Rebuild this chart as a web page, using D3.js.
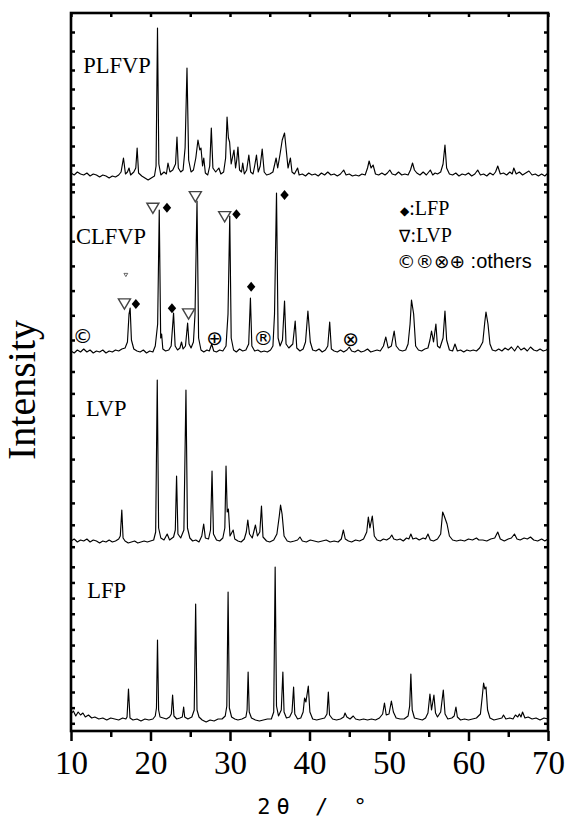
<!DOCTYPE html>
<html>
<head>
<meta charset="utf-8">
<script src="https://cdn.jsdelivr.net/npm/d3@7"></script>
<style>
body { margin: 0; background: #fff; }
</style>
</head>
<body>
<script>
// XRD patterns, 2theta in degrees, intensity relative to each pattern's own baseline
const sampleNames = ['LFP', 'LVP', 'CLFVP', 'PLFVP']
const sampleOffsets = [11, 189, 377, 553]
const labelTheta = [12.05, 11.89, 10.63, 11.55]
const labelIntensity = [133, 315, 487, 658]

const lfpPattern = [[10,6],[10.3,9],[10.6,4],[10.9,8],[11.2,5],[11.5,7],[11.8,3],[12.2,5],[12.6,2],[13,3],[13.5,1],[14,2],[14.5,0],[15,2],[15.5,1],[16,0],[16.5,2],[16.9,1],
  [17.05,3],[17.23,31],[17.42,2],[17.8,0],[18.3,1],[18.8,-1],[19.3,1],[19.8,0],[20.3,1],[20.6,4],[20.75,12],[20.88,80],[21.02,10],[21.2,3],
  [21.6,2],[22,1],[22.4,3],[22.62,6],[22.78,25],[22.95,4],[23.3,1],[23.7,2],[24.0,3],[24.17,13],[24.3,3],[24.7,1],[25.2,3],[25.5,10],[25.68,116],[25.85,10],
  [26.1,3],[26.5,0],[27,-2],[27.5,0],[28,-1],[28.5,1],[29,1],[29.4,4],[29.6,14],[29.76,128],[29.92,12],[30.2,3],[30.6,1],[31,0],[31.5,1],[32,3],[32.15,10],
  [32.28,48],[32.42,8],[32.7,2],[33.2,0],[33.7,-1],[34.2,0],[34.7,1],[35.2,1],[35.5,8],[35.68,153],[35.85,14],[36.1,4],[36.45,10],[36.65,48],[36.8,8],[37.1,2],
  [37.5,3],[37.8,8],[38.0,33],[38.15,6],[38.5,1],[38.9,2],[39.2,8],[39.38,22],[39.55,18],[39.85,34],[40.05,8],[40.4,1],[40.9,0],[41.4,1],[41.9,2],[42.2,6],
  [42.37,28],[42.52,5],[42.9,1],[43.4,0],[43.9,1],[44.3,3],[44.47,7],[44.7,3],[45.1,1],[45.5,4],[45.8,1],[46.3,0],[46.8,1],[47.3,0],[47.8,1],[48.3,0],[48.8,2],
  [49.2,6],[49.43,17],[49.65,5],[50.0,6],[50.3,19],[50.55,8],[50.9,2],[51.4,1],[51.9,1],[52.4,4],[52.6,14],[52.75,46],[52.92,10],[53.2,2],[53.7,1],[54.2,0],
  [54.6,2],[54.9,7],[55.15,26],[55.35,10],[55.65,25],[55.85,7],[56.1,3],[56.5,8],[56.83,30],[57.05,6],[57.4,1],[57.9,2],[58.2,4],[58.42,13],[58.6,3],[59,0],
  [59.5,1],[60,0],[60.5,1],[61,2],[61.5,6],[61.75,25],[61.9,37],[62.05,31],[62.2,33],[62.4,10],[62.7,2],[63.2,0],[63.7,1],[64.2,2],[64.4,5],[64.7,1],[65.2,2],
  [65.6,1],[65.9,5],[66.2,3],[66.4,6],[66.6,3],[66.8,8],[67.1,2],[67.5,3],[68,1],[68.5,2],[69,0],[69.5,2],[70,1]]

const lvpPattern = [[10,1],[10.4,3],[10.8,0],[11.2,2],[11.6,1],[12,3],[12.4,0],[12.8,2],[13.2,1],[13.6,-1],[14,1],[14.4,0],[14.8,2],[15.2,0],[15.6,1],[16,3],
  [16.2,6],[16.39,32],[16.55,4],[16.8,1],[17.2,-1],[17.6,0],[18,1],[18.4,-1],[18.8,0],[19.2,1],[19.6,0],[20,1],[20.4,2],[20.65,10],[20.85,162],[21.02,14],
  [21.3,4],[21.7,2],[22.1,8],[22.4,2],[22.9,5],[23.12,12],[23.28,66],[23.45,8],[23.8,4],[24.2,12],[24.46,152],[24.65,14],[24.95,4],[25.3,1],[25.7,2],[26.1,0],
  [26.45,6],[26.69,18],[26.9,4],[27.3,3],[27.55,12],[27.74,71],[27.92,8],[28.3,2],[28.7,1],[29.1,4],[29.35,14],[29.5,76],[29.65,30],[29.8,33],[30.0,6],[30.4,12],
  [30.6,3],[31,1],[31.4,0],[31.8,3],[32.05,10],[32.24,22],[32.45,8],[32.8,4],[33.2,17],[33.45,6],[33.75,10],[33.96,36],[34.15,5],[34.6,1],[35,0],[35.5,2],
  [35.9,8],[36.2,26],[36.36,37],[36.55,28],[36.8,6],[37.2,1],[37.6,0],[38.1,1],[38.5,2],[38.8,5],[39.1,1],[39.6,0],[40.1,2],[40.6,1],[41.1,0],[41.6,1],[42.1,2],
  [42.6,0],[43.1,1],[43.6,0],[44.0,3],[44.26,12],[44.5,3],[44.9,1],[45.3,0],[45.8,2],[46.3,1],[46.8,3],[47.2,10],[47.4,25],[47.6,14],[47.9,26],[48.15,6],
  [48.5,2],[48.9,1],[49.3,3],[49.7,2],[50.1,4],[50.35,7],[50.6,3],[51,2],[51.4,3],[51.8,1],[52.2,4],[52.5,3],[52.75,8],[53.0,3],[53.4,4],[53.8,2],[54.3,4],
  [54.6,3],[54.9,8],[55.2,2],[55.6,1],[56.1,3],[56.5,8],[56.75,30],[56.95,26],[57.3,18],[57.6,6],[58,2],[58.5,1],[59,2],[59.5,1],[60,3],[60.5,2],[61,4],
  [61.3,2],[61.8,2],[62.3,1],[62.8,3],[63.3,4],[63.68,10],[64,3],[64.5,1],[65,3],[65.4,4],[65.78,8],[66.1,3],[66.5,2],[67,4],[67.4,3],[67.8,5],[68.2,2],
  [68.7,1],[69.2,3],[69.6,1],[70,3]]

const clfvpPattern = [[10,3],[10.4,1],[10.8,4],[11.2,2],[11.6,5],[12,2],[12.4,4],[12.8,1],[13.2,3],[13.6,2],[14,4],[14.4,1],[14.8,3],[15.2,2],[15.6,4],[16,3],
  [16.4,5],[16.8,6],[17.1,12],[17.3,40],[17.44,46],[17.6,14],[17.9,5],[18.3,3],[18.7,2],[19.1,4],[19.5,1],[19.9,3],[20.3,2],[20.6,8],[20.9,30],[21.1,144],
  [21.28,16],[21.4,20],[21.55,5],[21.9,3],[22.3,4],[22.6,8],[22.9,41],[23.1,8],[23.4,4],[23.7,6],[23.9,12],[24.1,5],[24.4,8],[24.67,31],[24.85,10],[25.1,6],
  [25.4,12],[25.6,40],[25.85,153],[26.05,16],[26.35,4],[26.7,2],[27.1,4],[27.4,3],[27.7,10],[27.95,3],[28.3,2],[28.7,4],[29.1,3],[29.5,8],[29.75,40],
  [29.97,138],[30.15,16],[30.45,4],[30.8,2],[31.2,5],[31.6,3],[32.0,4],[32.35,10],[32.57,56],[32.75,8],[33.1,3],[33.5,4],[33.9,2],[34.3,3],[34.7,2],[35.1,4],
  [35.4,8],[35.6,40],[35.85,161],[36.05,16],[36.3,8],[36.6,14],[36.86,53],[37.05,10],[37.4,6],[37.9,10],[38.2,33],[38.4,6],[38.8,3],[39.2,5],[39.5,12],
  [39.8,43],[40.1,12],[40.4,4],[40.8,3],[41.2,5],[41.6,2],[42.0,4],[42.3,8],[42.54,32],[42.75,5],[43.1,3],[43.5,2],[43.9,4],[44.3,2],[44.7,4],[45.0,7],
  [45.3,3],[45.7,2],[46.1,4],[46.5,2],[46.9,3],[47.3,5],[47.7,2],[48.1,3],[48.5,4],[48.9,3],[49.3,8],[49.6,17],[49.9,6],[50.3,8],[50.65,23],[50.9,8],
  [51.3,4],[51.7,3],[52.1,4],[52.4,10],[52.65,30],[52.83,54],[53.1,40],[53.35,8],[53.7,4],[54.1,3],[54.5,5],[54.9,6],[55.15,14],[55.35,23],[55.6,12],
  [55.9,30],[56.1,8],[56.4,6],[56.8,16],[57.04,43],[57.25,14],[57.6,4],[58.0,3],[58.3,10],[58.6,3],[59,4],[59.4,2],[59.8,4],[60.2,3],[60.6,4],[61,3],
  [61.4,6],[61.8,12],[62.05,32],[62.2,42],[62.45,30],[62.7,10],[63,4],[63.4,3],[63.8,5],[64.2,3],[64.6,6],[65,4],[65.4,7],[65.8,3],[66.2,8],[66.6,4],
  [67,6],[67.4,3],[67.8,7],[68.2,4],[68.6,3],[69,5],[69.4,3],[69.8,4],[70,6]]

const plfvpPattern = [[10,5],[10.4,3],[10.8,6],[11.2,4],[11.6,3],[12,5],[12.4,2],[12.8,4],[13.2,3],[13.6,1],[14,3],[14.4,2],[14.8,0],[15.2,2],[15.6,1],[16,3],
  [16.3,6],[16.6,20],[16.85,4],[17.1,6],[17.3,10],[17.5,3],[17.9,6],[18.15,10],[18.32,30],[18.5,5],[18.9,2],[19.3,0],[19.7,-2],[20.1,0],[20.5,2],[20.7,12],
  [20.88,150],[21.05,14],[21.3,3],[21.7,6],[22.0,4],[22.2,15],[22.45,6],[22.8,8],[23.15,14],[23.33,41],[23.5,10],[23.8,6],[24.1,8],[24.35,30],[24.59,110],
  [24.8,18],[25.1,6],[25.4,8],[25.7,20],[25.97,38],[26.2,28],[26.35,30],[26.55,12],[26.7,20],[26.9,5],[27.2,3],[27.45,12],[27.65,50],[27.85,10],[28.2,6],
  [28.6,10],[28.85,4],[29.2,6],[29.45,20],[29.63,61],[29.8,40],[29.95,36],[30.15,14],[30.3,20],[30.5,28],[30.7,10],[30.85,18],[31.0,31],[31.2,8],[31.45,6],
  [31.6,15],[31.8,4],[32.1,8],[32.37,23],[32.6,6],[32.9,4],[33.1,12],[33.33,23],[33.55,6],[33.8,12],[34.05,29],[34.3,6],[34.6,3],[35.0,4],[35.4,6],[35.8,20],
  [36.0,10],[36.3,24],[36.57,38],[36.86,45],[37.05,30],[37.3,10],[37.6,20],[37.8,6],[38.1,4],[38.5,10],[38.7,3],[39.1,4],[39.5,2],[39.9,5],[40.3,3],[40.7,4],
  [41.1,2],[41.5,5],[41.9,3],[42.3,6],[42.7,3],[43.1,4],[43.5,2],[43.9,4],[44.3,8],[44.6,3],[45,4],[45.4,2],[45.8,3],[46.2,2],[46.6,4],[47,3],[47.3,10],
  [47.5,17],[47.75,10],[48.0,13],[48.3,4],[48.7,3],[49.1,5],[49.5,3],[49.8,5],[50.1,8],[50.4,4],[50.8,3],[51.2,6],[51.6,3],[52,4],[52.4,3],[52.7,8],
  [52.96,15],[53.2,8],[53.5,5],[53.9,3],[54.3,6],[54.7,3],[55.0,6],[55.2,8],[55.5,3],[55.8,5],[56.1,4],[56.5,6],[56.8,14],[57.04,33],[57.25,10],[57.6,4],
  [58,3],[58.4,5],[58.8,2],[59.2,4],[59.6,3],[60,5],[60.4,2],[60.8,4],[61.16,8],[61.5,3],[61.9,4],[62.3,2],[62.7,5],[63.1,3],[63.4,6],[63.68,12],[64,4],
  [64.4,5],[64.8,3],[65.2,6],[65.5,4],[65.7,10],[66,4],[66.4,6],[66.8,3],[67.2,5],[67.6,7],[68,3],[68.4,4],[68.8,2],[69.2,4],[69.6,2],[70,5]]

const patterns = [lfpPattern, lvpPattern, clfvpPattern, plfvpPattern]

// phase markers on the CLFVP pattern (absolute plot units)
const markerType = ['tri', 'dia', 'tri', 'tri', 'dia', 'dia', 'dia', 'dia', 'tri', 'tri', 'dia', 'small']
const markerTheta = [20.30, 22.07, 25.64, 29.33, 30.81, 32.66, 36.86, 22.70, 24.79, 16.72, 18.16, 16.9]
const markerIntensity = [522.7, 523.3, 534.3, 514.3, 516.7, 444.3, 536, 422.7, 417, 427, 427, 456]
const otherGlyph = ['©', '⊕', '®', '⊗']
const otherTheta = [11.48, 28.07, 34.17, 45.18]
const otherIntensity = [395.3, 392.7, 392.7, 392]

const xTicks = [10, 20, 30, 40, 50, 60, 70]
const xMinorTicks = [15, 25, 35, 45, 55, 65]
// small inner y ticks, one group per pattern panel
const yTickStart = [7.7, 184.3, 391, 547]
const yTickStep = [15.65, 21.9, 24.7, 19]
const yTickCount = [11, 9, 7, 9]

const W = 565, H = 820
const margin = { top: 13, right: 17, bottom: 89, left: 71 }

let svg = d3.select('body').append('svg')
  .attr('width', W).attr('height', H)
  .style('background', '#fff')

let x = d3.scaleLinear().domain([10, 70]).range([margin.left, W - margin.right])
let y = d3.scaleLinear().domain([0, 718]).range([H - margin.bottom, margin.top])

// patterns
let line = d3.line().x(d => x(d[0])).y(d => y(d[1]))
patterns.forEach((p, i) => {
  svg.append('path')
    .datum(p.map(d => [d[0], d[1] + sampleOffsets[i]]))
    .attr('d', line)
    .attr('fill', 'none')
    .attr('stroke', '#000')
    .attr('stroke-width', 1.15)
    .attr('stroke-linejoin', 'round')
})

// sample labels
sampleNames.forEach((name, i) => {
  svg.append('text')
    .attr('x', x(labelTheta[i]))
    .attr('y', y(labelIntensity[i]))
    .attr('font-family', 'Liberation Serif, serif')
    .attr('font-size', 22.5)
    .text(name)
})

// markers
let triangleDown = {
  draw(ctx, size) {
    let w = Math.sqrt(size) * 0.55, h = w * 1.7
    ctx.moveTo(-w, -h / 2); ctx.lineTo(w, -h / 2); ctx.lineTo(0, h / 2); ctx.closePath()
  }
}
let diamond = {
  draw(ctx, size) {
    let w = Math.sqrt(size) * 0.42, h = w * 1.2
    ctx.moveTo(0, -h); ctx.lineTo(w, 0); ctx.lineTo(0, h); ctx.lineTo(-w, 0); ctx.closePath()
  }
}
markerType.forEach((t, i) => {
  let sym = t == 'dia' ? d3.symbol(diamond, 100) : d3.symbol(triangleDown, t == 'small' ? 12 : 120)
  svg.append('path')
    .attr('d', sym())
    .attr('transform', `translate(${x(markerTheta[i])},${y(markerIntensity[i])})`)
    .attr('fill', t == 'dia' ? '#000' : '#fff')
    .attr('stroke', t == 'dia' ? 'none' : '#444')
    .attr('stroke-width', t == 'small' ? 0.8 : 1.4)
})
otherGlyph.forEach((g, i) => {
  svg.append('text')
    .attr('x', x(otherTheta[i]))
    .attr('y', y(otherIntensity[i]))
    .attr('text-anchor', 'middle')
    .attr('dominant-baseline', 'central')
    .attr('font-family', 'DejaVu Sans, sans-serif')
    .attr('font-size', 20)
    .text(g)
})

// legend
let legend = svg.append('g').attr('font-family', 'Liberation Serif, serif').attr('font-size', 20)
let l1 = legend.append('text').attr('x', 400).attr('y', 215)
l1.append('tspan').attr('font-family', 'DejaVu Sans').attr('font-size', 12).text('◆')
l1.append('tspan').text(':LFP')
let l2 = legend.append('text').attr('x', 399).attr('y', 242)
l2.append('tspan').attr('font-family', 'DejaVu Sans').attr('font-size', 17).text('∇')
l2.append('tspan').text(':LVP')
let l3 = legend.append('text').attr('x', 397).attr('y', 268).attr('font-family', 'Liberation Sans, Arial, sans-serif')
l3.append('tspan').attr('font-family', 'DejaVu Sans').attr('font-size', 18.5).text('©®⊗⊕')
l3.append('tspan').attr('font-size', 20).text(' :others')

// axes
let yTickVals = []
yTickStart.forEach((s, i) => {
  d3.range(yTickCount[i]).forEach(k => yTickVals.push(s + k * yTickStep[i]))
})

let bottom = svg.append('g')
  .attr('transform', `translate(0,${H - margin.bottom})`)
  .call(d3.axisBottom(x).tickValues(xTicks).tickSize(10).tickSizeOuter(0).tickPadding(10))
bottom.selectAll('text')
  .attr('font-family', 'Liberation Serif, serif')
  .attr('font-size', 33)
  .attr('fill', '#000')
svg.append('g')
  .attr('transform', `translate(0,${H - margin.bottom})`)
  .call(d3.axisBottom(x).tickValues(xMinorTicks).tickSize(6).tickSizeOuter(0).tickFormat(''))
svg.append('g')
  .attr('transform', `translate(0,${margin.top})`)
  .call(d3.axisTop(x).tickValues(xTicks.concat(xMinorTicks)).tickSize(-4).tickSizeOuter(0).tickFormat(''))
svg.append('g')
  .attr('transform', `translate(${margin.left},0)`)
  .call(d3.axisLeft(y).tickValues(yTickVals).tickSize(-4).tickSizeOuter(0).tickFormat(''))
svg.append('g')
  .attr('transform', `translate(${W - margin.right},0)`)
  .call(d3.axisRight(y).tickValues(yTickVals).tickSize(-4).tickSizeOuter(0).tickFormat(''))

svg.selectAll('.domain').remove()
svg.selectAll('.tick line').attr('stroke', '#000').attr('stroke-width', 2.5)

// frame
svg.append('rect')
  .attr('x', margin.left).attr('y', margin.top)
  .attr('width', W - margin.left - margin.right)
  .attr('height', H - margin.top - margin.bottom)
  .attr('fill', 'none')
  .attr('stroke', '#000')
  .attr('stroke-width', 2.6)

// axis titles
svg.append('text')
  .attr('transform', `translate(35,390) rotate(-90)`)
  .attr('text-anchor', 'middle')
  .attr('font-family', 'Liberation Serif, serif')
  .attr('font-size', 40)
  .text('Intensity')
svg.append('text')
  .attr('x', 315).attr('y', 814)
  .attr('text-anchor', 'middle')
  .attr('font-family', 'DejaVu Sans Mono, monospace')
  .attr('font-size', 22)
  .attr('letter-spacing', 6)
  .style('white-space', 'pre')
  .text('2θ / °')
</script>
</body>
</html>
